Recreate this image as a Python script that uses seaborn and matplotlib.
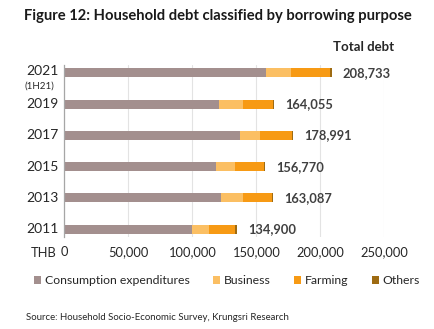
import matplotlib
matplotlib.use("Agg")
import matplotlib.pyplot as plt
import seaborn as sns
import pandas as pd
from matplotlib.patches import Patch

# Household debt by borrowing purpose (THB per household)
years = ["2021", "2019", "2017", "2015", "2013", "2011"]
consumption = [157200, 121000, 137300, 118100, 122300, 99600]
business = [19500, 18200, 15700, 15300, 16900, 13500]
farming = [30700, 23900, 25000, 22400, 22900, 20600]
totals = [208733, 164055, 178991, 156770, 163087, 134900]
others = [t - c - b - f for t, c, b, f in zip(totals, consumption, business, farming)]

series_names = ["Consumption expenditures", "Business", "Farming", "Others"]
colors = ["#A38F8E", "#FBBF63", "#F79A14", "#9E6B12"]
xticks = [0, 50000, 100000, 150000, 200000, 250000]

sns.set_theme(style="white")
plt.rcParams["font.family"] = ["Lato", "DejaVu Sans"]

df = pd.DataFrame({"year": years, "Consumption expenditures": consumption,
                   "Business": business, "Farming": farming, "Others": others})
# cumulative stacks, drawn from the longest layer down
layers = df[series_names].cumsum(axis=1)

fig = plt.figure(figsize=(4.35, 3.29), dpi=100)
ax = fig.add_axes([0.148, 0.2805, 0.7355, 0.5219])

for name, col in reversed(list(zip(series_names, colors))):
    sns.barplot(x=layers[name], y=df["year"], color=col, orient="h",
                width=0.29, ax=ax, saturation=1, linewidth=0)

ax.set_xlim(0, 250000)
ax.set_ylim(5.24, -0.25)
ax.set_xlabel("")
ax.set_ylabel("")
ax.set_xticks(xticks)
ax.set_xticklabels([f"{v:,}" for v in xticks], fontsize=9.3, color="#262626")
ax.tick_params(axis="x", length=0, pad=7)
ax.set_yticks(range(len(years)))
ax.set_yticklabels([])
ax.tick_params(axis="y", length=0)
ax.xaxis.grid(True, color="#E3E3E3", linewidth=0.8)
ax.set_axisbelow(True)
for s in ["top", "right", "bottom"]:
    ax.spines[s].set_visible(False)
ax.spines["left"].set_color("#A6A6A6")
ax.spines["left"].set_linewidth(0.9)

# year labels on the left
for i, y in enumerate(years):
    ax.text(-4600, i - (0.06 if i == 0 else 0), y, ha="right", va="center",
            fontsize=10, color="#262626", clip_on=False)
ax.text(-19500, 0.42, "(1H21)", ha="center", va="center", fontsize=7,
        color="#262626", clip_on=False)

# total value labels
for i, t in enumerate(totals):
    ax.text(t + 8500, i, f"{t:,}", ha="left", va="center", fontsize=9.3,
            fontweight="bold", color="#404040", clip_on=False)

fig.text(0.502, 1 - 16 / 329, "Figure 12: Household debt classified by borrowing purpose",
         ha="center", va="center", fontsize=10.6, fontweight="bold", color="#1a1a1a")
fig.text(0.905, 1 - 47 / 329, "Total debt", ha="right", va="center", fontsize=9.5,
         fontweight="bold", color="#262626")
fig.text(31 / 435, 1 - 253 / 329, "THB", ha="left", va="center", fontsize=9.3,
         color="#262626")

handles = [Patch(facecolor=c, edgecolor="none") for c in colors]
fig.legend(handles, series_names, loc="center", bbox_to_anchor=(0.522, 1 - 281 / 329),
           ncol=4, frameon=False, fontsize=8.8, handlelength=0.55, handleheight=0.6,
           handletextpad=0.35, columnspacing=1.9, labelcolor="#262626")

fig.text(26 / 435, 1 - 317 / 329, "Source: Household Socio-Economic Survey, Krungsri Research",
         ha="left", va="center", fontsize=6.9, color="#262626")

fig.savefig("out.png", dpi=100)
